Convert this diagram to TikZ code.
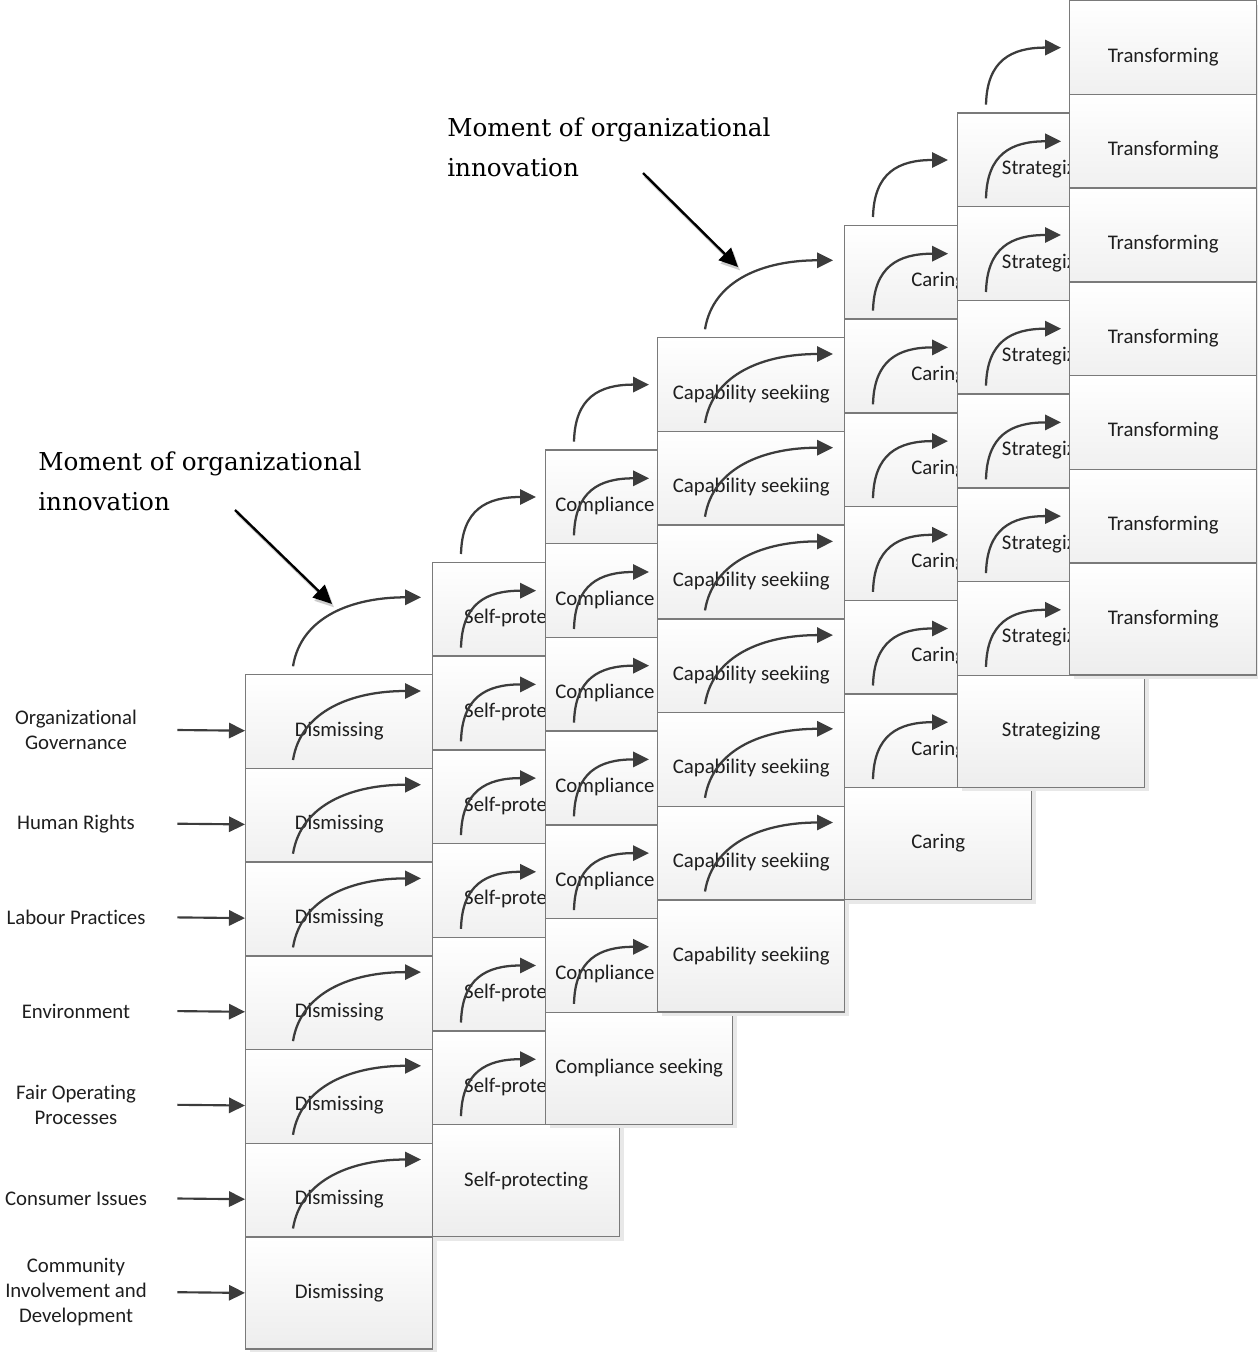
\documentclass[tikz,border=0pt]{standalone}
\usepackage{fontspec}
\setmainfont{Carlito}[Ligatures=NoCommon]
\newfontfamily\notefont{DejaVu Serif}
\usetikzlibrary{arrows.meta,calc,shadows}
\definecolor{boxline}{HTML}{7A7A7A}
\definecolor{flow}{HTML}{3C3C3C}
\definecolor{ink}{HTML}{1E1E1E}
\begin{document}
\begin{tikzpicture}[x=0.75pt,y=-0.75pt,
  stage/.style={draw=boxline, line width=1.05pt, top color=white, bottom color=black!7,
    minimum width=140.25pt, minimum height=84pt, inner sep=0pt, anchor=north west,
    text=ink, font=\fontsize{15.6}{18.8}\selectfont,
    drop shadow={shadow xshift=3pt, shadow yshift=-3pt, fill=black!9, opacity=1}},
  flowarrow/.style={draw=flow, line width=1.7pt, -{Triangle[length=12pt,width=11.5pt]}},
  inarrow/.style={draw=flow, line width=1.6pt, -{Triangle[length=12pt,width=11.5pt]}},
  area/.style={align=center, minimum width=151.5pt, inner sep=0pt, text=ink,
    font=\fontsize{15.6}{18.75}\selectfont},
  note/.style={align=left, inner sep=0pt, text=black, font=\notefont\fontsize{18.5}{30}\selectfont},
  notearrow/.style={draw=black, line width=1.8pt, -{Triangle[length=14pt,width=13pt]}},
  noteshadow/.style={draw=black!20, line width=1.8pt, -{Triangle[length=14pt,width=13pt]},
    transform canvas={shift={(1.5pt,-2.5pt)}}}
]
\useasboundingbox (0,0) rectangle (1257,1352);

% stages: column / left / top / text / arrow start x / arrow end x / arrow end y / first control / second control
\foreach \c/\L/\Tc/\name/\a/\b/\e/\cx/\cy/\dx in {
  1/245/674/Dismissing/48/176/17/8/50/68,
  2/432/561.7/Self-protecting/29/104/29/1/44/50,
  3/545/449.3/Compliance seeking/29/104/29/1/44/50,
  4/657/337/Capability seekiing/48/176/17/8/50/68,
  5/844/224.7/Caring/29/104/29/1/44/50,
  6/957/112.3/Strategizing/29/104/29/1/44/50,
  7/1069/0/Transforming/0/0/0/0/0/0}{
  \foreach \r in {0,...,6}{
    \pgfmathsetmacro\T{\Tc + 93.7*\r}
    \node[stage] (c\c-\r) at (\L,\T) {\name};
    \ifnum\c<7 \ifnum\r<6
      \coordinate (s\c-\r) at ($(c\c-\r.north west)+(\a,86)$);
      \coordinate (e\c-\r) at ($(c\c-\r.north west)+(\b,\e)$);
      \draw[flowarrow] (s\c-\r) .. controls +(\cx,-\cy) and +(-\dx,0) .. (e\c-\r);
    \fi\fi
  }
  % step up from the top stage of each column
  \ifnum\c<7
    \pgfmathsetmacro\eu{\e-93.7}
    \coordinate (su\c) at ($(c\c-0.north west)+(\a,-7.7)$);
    \coordinate (eu\c) at ($(c\c-0.north west)+(\b,\eu)$);
    \draw[flowarrow] (su\c) .. controls +(\cx,-\cy) and +(-\dx,0) .. (eu\c);
  \fi
}

% subject areas feeding the first column
\foreach \r/\lab in {0/{Organizational\\Governance}, 1/{Human Rights}, 2/{Labour Practices},
  3/{Environment}, 4/{Fair Operating\\Processes}, 5/{Consumer Issues},
  6/{Community\\Involvement and\\Development}}{
  \node[area] (lab\r) at (76, 730+93.7*\r) {\lab};
  \draw[inarrow] (lab\r.east) -- (c1-\r.west);
}

% annotations (anchored on the baseline of their last line)
\node[note, anchor=base west] (m1) at (38,510) {Moment of organizational\\innovation};
\coordinate (m1s) at (235,510);
\coordinate (m1t) at (332,604);
\draw[noteshadow] (m1s) -- (m1t);
\draw[notearrow] (m1s) -- (m1t);

\node[note, anchor=base west] (m2) at (447,176) {Moment of organizational\\innovation};
\coordinate (m2s) at (643,173);
\coordinate (m2t) at (738,267);
\draw[noteshadow] (m2s) -- (m2t);
\draw[notearrow] (m2s) -- (m2t);
\end{tikzpicture}
\end{document}
